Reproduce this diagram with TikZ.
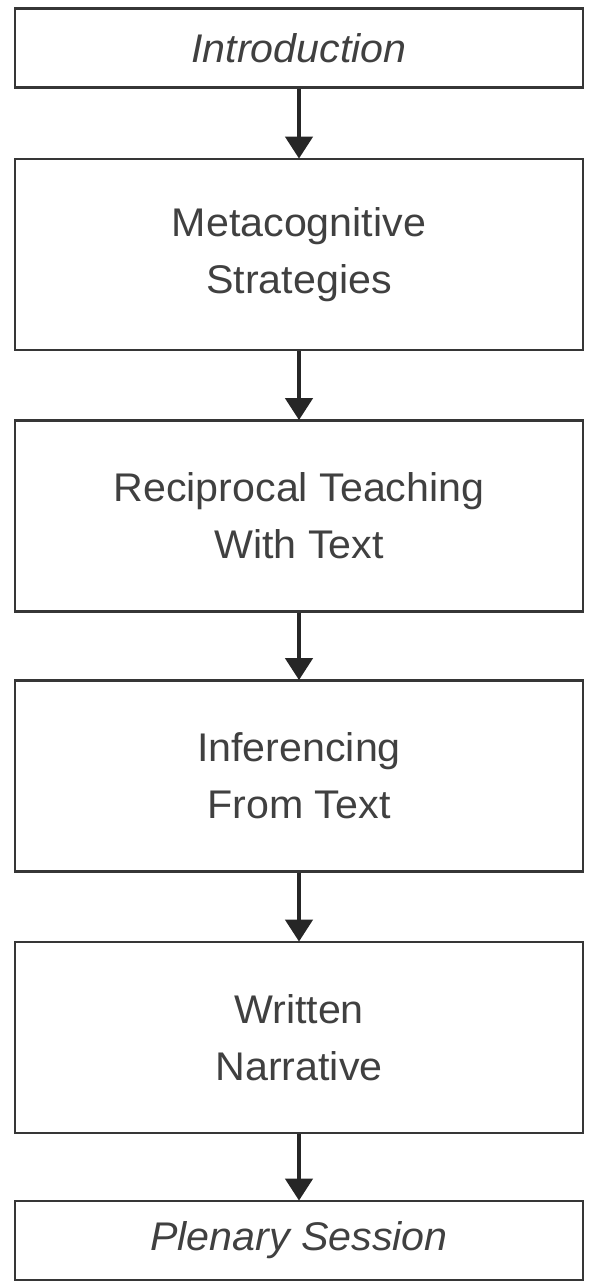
\documentclass[tikz,border=0pt]{standalone}
\usepackage{fontspec}
\setmainfont{Liberation Sans}[FakeStretch=1.03]
\usetikzlibrary{arrows.meta}
\definecolor{boxline}{HTML}{363636}
\definecolor{txt}{HTML}{404040}
\tikzset{
  stage/.style={draw=boxline, line width=2.8pt, minimum width=568pt, inner sep=0pt,
    align=center, text=txt, font=\fontsize{40}{57}\selectfont},
  tall/.style={stage, minimum height=191pt},
  short/.style={stage, minimum height=79pt},
  flow/.style={draw=black!85, line width=4.5pt, -{Triangle[width=27pt,length=22pt]}, shorten >=-1pt}
}
\begin{document}
\begin{tikzpicture}[x=1pt,y=1pt]
\useasboundingbox (0,0) rectangle (595,-1282);
\node[short] (intro) at (299,-48) {\itshape Introduction};
\node[tall] (meta) at (299,-254.5) {Metacognitive\\Strategies};
\node[tall] (recip) at (299,-516) {Reciprocal Teaching\\With Text};
\node[tall] (infer) at (299,-776) {Inferencing\\From Text};
\node[tall] (written) at (299,-1037.5) {Written\\Narrative};
\node[short] (plen) at (299,-1240.5) {\itshape Plenary Session};
\draw[flow] (intro) -- (meta);
\draw[flow] (meta) -- (recip);
\draw[flow] (recip) -- (infer);
\draw[flow] (infer) -- (written);
\draw[flow] (written) -- (plen);
\end{tikzpicture}
\end{document}
